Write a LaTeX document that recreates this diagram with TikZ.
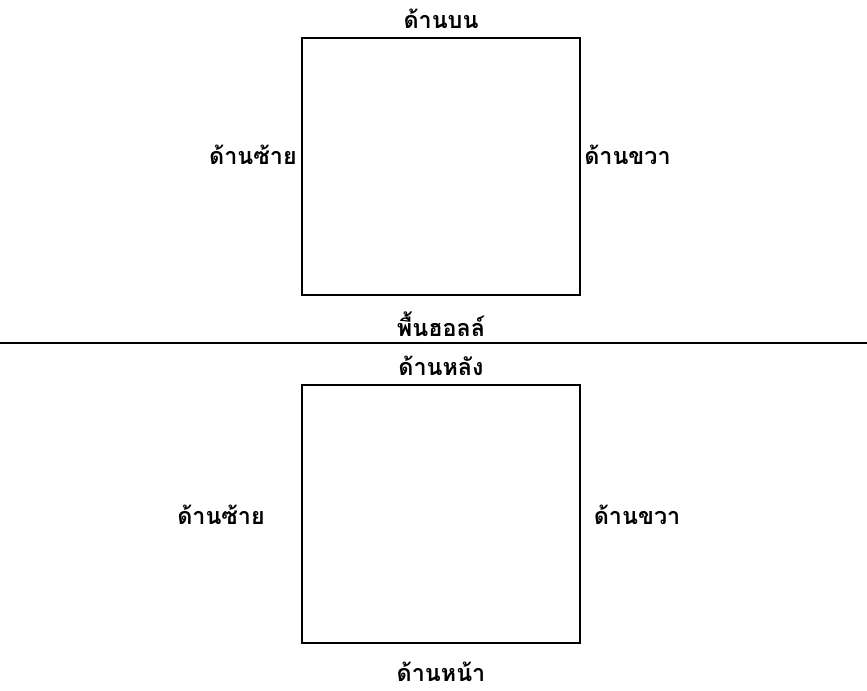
\documentclass[tikz,border=0pt]{standalone}
\usepackage{fontspec}
\newfontfamily\thaifont[Script=Thai]{Loma}
\begin{document}
\begin{tikzpicture}[x=0.75pt,y=-0.75pt,
  lbl/.style={font=\thaifont\bfseries\fontsize{17.5}{20}\selectfont, inner sep=0pt},
  boxline/.style={draw=black, line width=1.5pt}]
\useasboundingbox (0,0) rectangle (867,691);
% upper box
\node[boxline, minimum width=278*0.75pt, minimum height=257*0.75pt, inner sep=0pt] (upbox) at (441,166.5) {};
\node[lbl] (top) at (441,19) {ด้านบน};
\node[lbl, anchor=east] (upleft) at (297,155) {ด้านซ้าย};
\node[lbl, anchor=west] (upright) at (584,155) {ด้านขวา};
\node[lbl] (floor) at (441,324) {พื้นฮอลล์};
% separator
\coordinate (sepL) at (0,343);
\coordinate (sepR) at (867,343);
\draw[line width=1.5pt] (sepL) -- (sepR);
% lower box
\node[boxline, minimum width=278*0.75pt, minimum height=258*0.75pt, inner sep=0pt] (lowbox) at (441,514) {};
\node[lbl] (back) at (441,366) {ด้านหลัง};
\node[lbl] (lowleft) at (221,515) {ด้านซ้าย};
\node[lbl] (lowright) at (637,515) {ด้านขวา};
\node[lbl] (front) at (441,672) {ด้านหน้า};
\end{tikzpicture}
\end{document}
